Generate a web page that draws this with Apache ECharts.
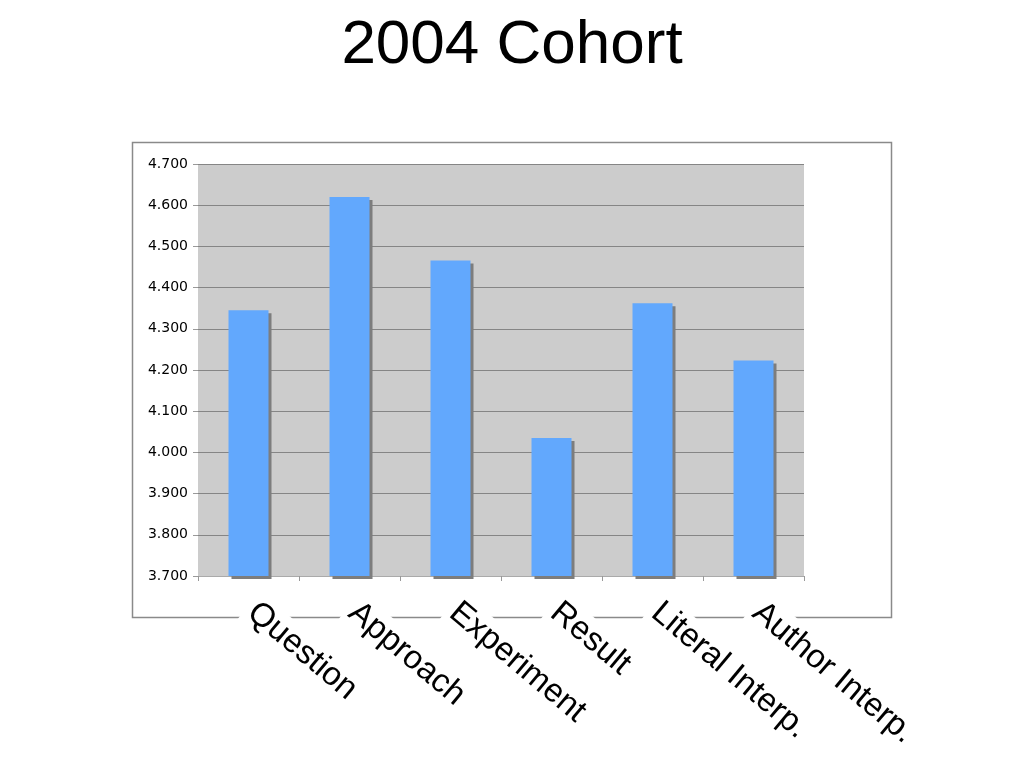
<!DOCTYPE html>
<html>
<head>
<meta charset="utf-8">
<script src="https://cdn.jsdelivr.net/npm/echarts@6/dist/echarts.min.js"></script>
<style>html,body{margin:0;padding:0;background:#fff;}#c{width:1024px;height:768px;}</style>
</head>
<body>
<div id="c"></div>
<script>
const categories = ['Question', 'Approach', 'Experiment', 'Result', 'Literal Interp.', 'Author Interp.'];
const values = [4.345, 4.620, 4.466, 4.035, 4.362, 4.223];
const titleText = '2004 Cohort';

const chart = echarts.init(document.getElementById('c'), null, {renderer: 'canvas'});
chart.setOption({
  animation: false,
  backgroundColor: '#ffffff',
  title: {
    text: titleText,
    left: 'center',
    top: 10,
    textStyle: {fontFamily: 'Liberation Sans', fontSize: 62, fontWeight: 'normal', color: '#000'}
  },
  graphic: [{
    type: 'rect',
    z: -10,
    shape: {x: 132.5, y: 142.5, width: 759, height: 475},
    style: {fill: 'none', stroke: '#8a8a8a', lineWidth: 1.5}
  }],
  grid: {
    left: 198, right: 220, top: 164, bottom: 192,
    show: true, backgroundColor: '#cccccc', borderWidth: 0
  },
  xAxis: {
    type: 'category',
    data: categories,
    axisLine: {show: true, lineStyle: {color: '#aaaaaa', width: 1}},
    axisTick: {show: true, length: 5, lineStyle: {color: '#999999'}},
    axisLabel: {
      interval: 0,
      rotate: -40,
      margin: 30,
      fontFamily: 'Liberation Sans',
      fontSize: 33,
      color: '#000',
      backgroundColor: '#ffffff',
      padding: [2, 4, 2, 4]
    }
  },
  yAxis: {
    type: 'value',
    min: 3.7,
    max: 4.7,
    interval: 0.1,
    axisLine: {show: false},
    axisTick: {show: true, length: 5, lineStyle: {color: '#999999'}},
    axisLabel: {
      margin: 10,
      fontFamily: 'DejaVu Sans',
      fontSize: 14,
      color: '#000',
      formatter: v => v.toFixed(3)
    },
    splitLine: {show: true, lineStyle: {color: '#858585', width: 1}}
  },
  series: [{
    type: 'bar',
    data: values,
    barWidth: 40,
    itemStyle: {
      color: '#62a8fd',
      shadowColor: '#7d7d7d',
      shadowBlur: 0,
      shadowOffsetX: 3,
      shadowOffsetY: 3
    }
  }]
});
</script>
</body>
</html>
